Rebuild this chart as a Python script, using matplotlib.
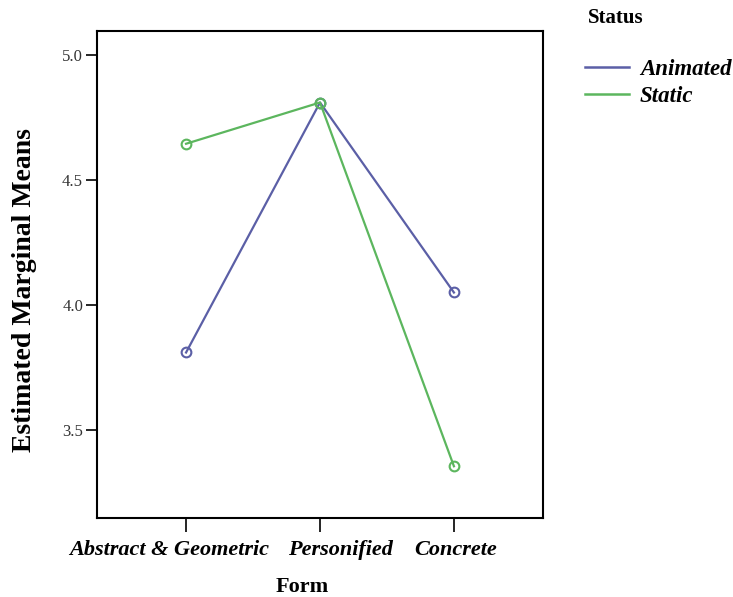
import matplotlib.pyplot as plt
from matplotlib.lines import Line2D
import numpy as np

# Data
forms = ["Abstract & Geometric", "Personified", "Concrete"]
animated = [3.81, 4.81, 4.05]
static = [4.645, 4.81, 3.355]
yticks = [3.5, 4.0, 4.5, 5.0]

col_anim = "#5b5fa6"
col_stat = "#5cb65e"

plt.rcParams['font.family'] = ['Liberation Serif', 'DejaVu Serif']

W, H = 733, 597
fig = plt.figure(figsize=(W / 100, H / 100), dpi=100)
ax = fig.add_axes([97/W, 1 - 518/H, (543-97)/W, (518-31)/H])

x = np.arange(1, len(forms) + 1)
ax.plot(x, animated, color=col_anim, lw=1.6, marker='o', ms=7,
        mfc='none', mec=col_anim, mew=1.5)
ax.plot(x, static, color=col_stat, lw=1.6, marker='o', ms=7,
        mfc='none', mec=col_stat, mew=1.5)

ax.set_xlim(0.335, 3.665)
ax.set_ylim(3.148, 5.096)
ax.set_xticks(x)
ax.set_xticklabels([])
# category labels drawn by hand, nudged sideways so the long ones don't collide
for xi, name, dx in zip(x, forms, [-17, 20, 2]):
    ax.annotate(name, xy=(xi, 0), xycoords=('data', 'axes fraction'),
                xytext=(dx, -22), textcoords='offset pixels',
                ha='center', va='top', fontsize=16, fontweight='bold',
                fontstyle='italic', annotation_clip=False)
ax.set_yticks(yticks)
ax.set_yticklabels([f"{v:.1f}" for v in yticks], fontsize=12, color='#333333')
ax.tick_params(axis='x', length=10, width=1.2, pad=6)
ax.tick_params(axis='y', length=8, width=1.2, pad=2)
for s in ax.spines.values():
    s.set_linewidth(1.5)

ax.set_ylabel("Estimated Marginal Means", fontsize=20, fontweight='bold')
ax.yaxis.set_label_coords(-(97 - 37) / 446, 0.468)
ax.set_xlabel("Form", fontsize=16, fontweight='bold')
ax.xaxis.set_label_coords(0.46, -0.121)

# legend outside on the right
fig.text(588/W, 1 - 18/H, "Status", fontsize=15, fontweight='bold', va='center', ha='left')
handles = [Line2D([], [], color=col_anim, lw=1.8),
           Line2D([], [], color=col_stat, lw=1.8)]
fig.legend(handles, ["Animated", "Static"], loc='upper left',
           bbox_to_anchor=(585/W, 1 - 59/H), frameon=False,
           borderpad=0, borderaxespad=0, handlelength=1.9,
           handletextpad=0.5, labelspacing=0.25,
           prop={'size': 16.5, 'weight': 'bold', 'style': 'italic'})

fig.savefig("out.png", dpi=100)
